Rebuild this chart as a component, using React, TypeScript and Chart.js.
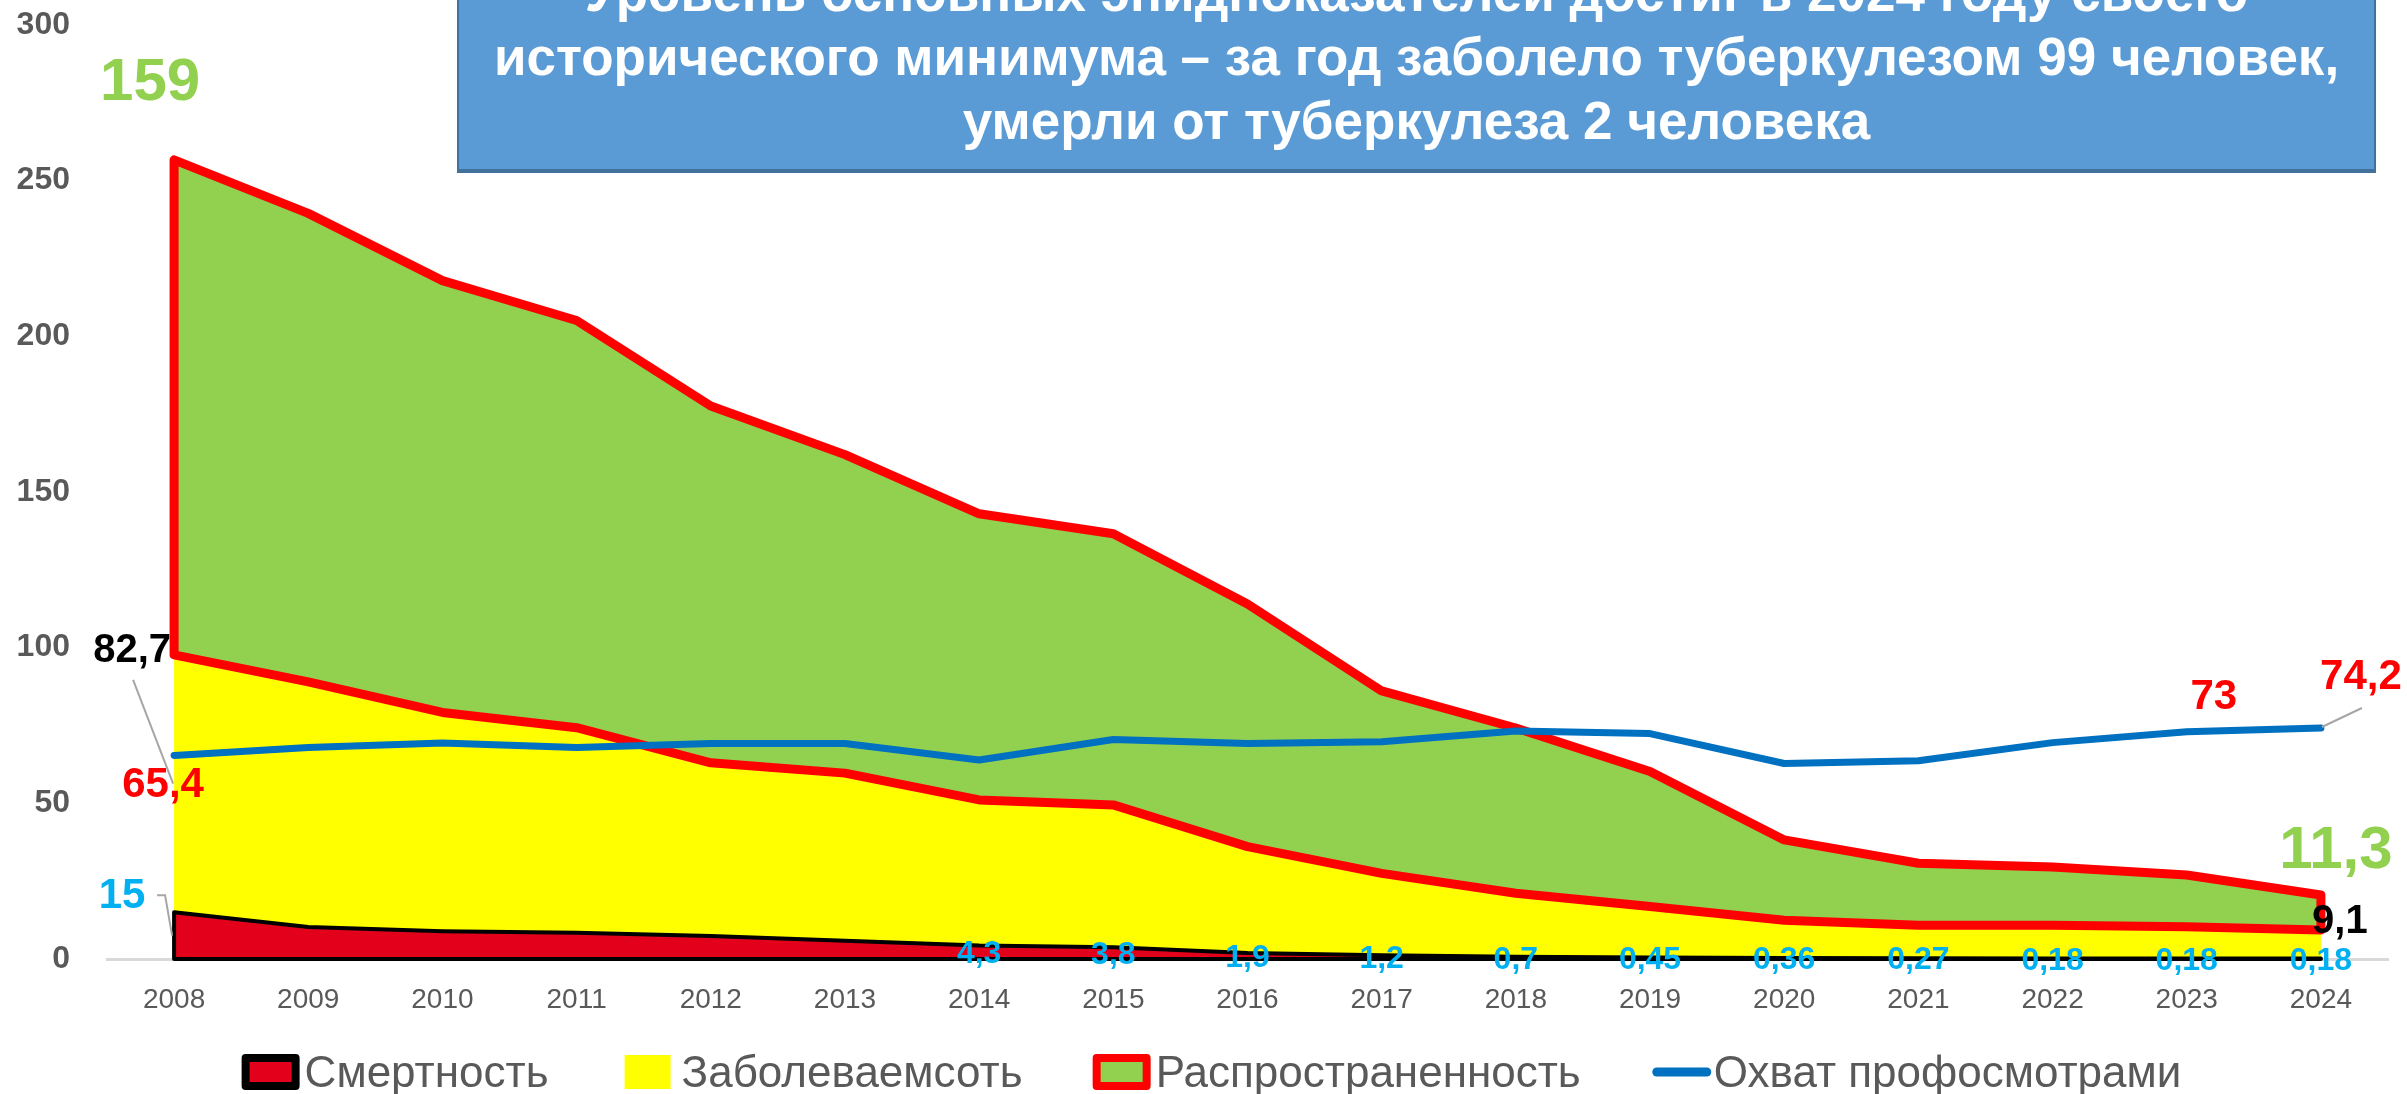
import React, { useEffect, useRef } from 'react';
import { Chart, registerables } from 'chart.js';

Chart.register(...registerables);

const years = ['2008', '2009', '2010', '2011', '2012', '2013', '2014', '2015', '2016', '2017', '2018', '2019', '2020', '2021', '2022', '2023', '2024'];
const mortality = [15, 10.3, 8.9, 8.4, 7.4, 5.9, 4.3, 3.8, 1.9, 1.2, 0.7, 0.45, 0.36, 0.27, 0.18, 0.18, 0.18];
const incidence = [82.7, 78.7, 70.3, 65.9, 55.6, 53.8, 46.8, 45.7, 34.2, 26.3, 20.4, 16.4, 12.1, 10.6, 10.7, 10.2, 9.1];
const prevalence = [159, 150.5, 138.7, 130.8, 114.6, 102.3, 91.9, 87.1, 77.9, 58.6, 53.1, 43.4, 25.8, 19.9, 18.7, 16.6, 11.3];
const coverage = [65.4, 67.9, 69.4, 67.9, 69.2, 69.2, 63.9, 70.5, 69.2, 69.8, 73.2, 72.4, 62.8, 63.7, 69.5, 73, 74.2];
const yTickValues = [0, 50, 100, 150, 200, 250, 300];
const seriesNames = ['Смертность', 'Заболеваемсоть', 'Распространенность', 'Охват профосмотрами'];
const titleLines = [
  'Уровень основных эпидпоказателей достиг в 2024 году своего',
  'исторического минимума – за год заболело туберкулезом 99 человек,',
  'умерли от туберкулеза 2 человека',
];

const FONT = "'Liberation Sans', Arial, sans-serif";
const fmt = (v: number) => String(v).replace('.', ',');

const outlinePlugin = {
  id: 'bandOutlines',
  afterDatasetDraw(chart: any, args: any) {
    const idx = args.index;
    const ds: any = chart.data.datasets[idx];
    if (!ds.outlineColor) return;
    const meta = chart.getDatasetMeta(idx);
    const ctx = chart.ctx;
    const top = meta.data.map((p: any) => ({ x: p.x, y: p.y }));
    let bottom: { x: number; y: number }[];
    if (idx === 0) {
      const y0 = chart.scales.y.getPixelForValue(0);
      bottom = top.map((p: any) => ({ x: p.x, y: y0 }));
    } else {
      bottom = chart.getDatasetMeta(idx - 1).data.map((p: any) => ({ x: p.x, y: p.y }));
    }
    ctx.save();
    ctx.beginPath();
    top.forEach((p: any, i: number) => (i === 0 ? ctx.moveTo(p.x, p.y) : ctx.lineTo(p.x, p.y)));
    for (let i = bottom.length - 1; i >= 0; i--) ctx.lineTo(bottom[i].x, bottom[i].y);
    ctx.closePath();
    ctx.strokeStyle = ds.outlineColor;
    ctx.lineWidth = ds.outlineWidth;
    ctx.lineJoin = 'round';
    ctx.stroke();
    ctx.restore();
  },
};

const labelPlugin = {
  id: 'valueLabels',
  afterDatasetsDraw(chart: any) {
    const ctx = chart.ctx;
    const y0 = chart.scales.y.getPixelForValue(0);
    const m0 = chart.getDatasetMeta(0).data;
    const m1 = chart.getDatasetMeta(1).data;
    const m2 = chart.getDatasetMeta(2).data;
    const m3 = chart.getDatasetMeta(3).data;
    const last = years.length - 1;
    const text = (t: string, x: number, y: number, size: number, color: string) => {
      ctx.save();
      ctx.font = `bold ${size}px ${FONT}`;
      ctx.fillStyle = color;
      ctx.textAlign = 'center';
      ctx.textBaseline = 'middle';
      ctx.fillText(t, x, y);
      ctx.restore();
    };
    const line = (pts: number[][]) => {
      ctx.save();
      ctx.strokeStyle = '#A6A6A6';
      ctx.lineWidth = 2;
      ctx.beginPath();
      pts.forEach((p, i) => (i === 0 ? ctx.moveTo(p[0], p[1]) : ctx.lineTo(p[0], p[1])));
      ctx.stroke();
      ctx.restore();
    };
    for (let i = 6; i <= last; i++) {
      const p = m0[i];
      text(fmt(mortality[i]), p.x, (p.y + y0) / 2 + 2, 32, '#00B0F0');
    }
    const pm = m0[0];
    text(fmt(mortality[0]), pm.x - 52, pm.y - 16, 42, '#00B0F0');
    line([[pm.x - 17, pm.y - 17], [pm.x - 9, pm.y - 17], [pm.x - 2, (pm.y + y0) / 2]]);
    const pi = m1[0];
    text(fmt(incidence[0]), pi.x - 42, pi.y - 4, 40, '#000000');
    line([[pi.x - 41, pi.y + 25], [pi.x - 1, (pi.y + pm.y) / 2]]);
    const pc = m3[0];
    text(fmt(coverage[0]), pc.x - 11, pc.y + 30, 42, '#FF0000');
    const pp = m2[0];
    text(fmt(prevalence[0]), pp.x - 24, pp.y - 76, 60, '#92D050');
    const pc23 = m3[last - 1];
    text(fmt(coverage[last - 1]), pc23.x + 27, pc23.y - 34, 42, '#FF0000');
    const pc24 = m3[last];
    text(fmt(coverage[last]), pc24.x + 40, pc24.y - 51, 42, '#FF0000');
    line([[pc24.x + 1, pc24.y - 1], [pc24.x + 41, pc24.y - 20]]);
    const pp24 = m2[last];
    text(fmt(prevalence[last]), pp24.x + 15, pp24.y - 43, 60, '#92D050');
    const pi24 = m1[last];
    text(fmt(incidence[last]), pi24.x + 19, pi24.y - 8, 40, '#000000');
  },
};

// legend drawn below the axis, items centred on the canvas
const legendPlugin = {
  id: 'bottomLegend',
  afterDraw(chart: any) {
    const ctx = chart.ctx;
    const items = [
      { text: seriesNames[0], kind: 'box', fill: '#E2001A', stroke: '#000000' },
      { text: seriesNames[1], kind: 'plain', fill: '#FFFF00', stroke: '' },
      { text: seriesNames[2], kind: 'box', fill: '#92D050', stroke: '#FF0000' },
      { text: seriesNames[3], kind: 'line', fill: '#0070C0', stroke: '#0070C0' },
    ];
    const symW = 58;
    const gap = 5;
    const spacing = 70;
    const cy = 1072;
    ctx.save();
    ctx.font = `44px ${FONT}`;
    const widths = items.map((it) => ctx.measureText(it.text).width);
    const total = widths.reduce((a, w) => a + symW + gap + w, 0) + spacing * (items.length - 1);
    let x = (chart.width - total) / 2 + 8;
    items.forEach((it, i) => {
      if (it.kind === 'box') {
        ctx.fillStyle = it.stroke;
        ctx.beginPath();
        ctx.roundRect(x, cy - 18, symW, 36, 4);
        ctx.fill();
        ctx.fillStyle = it.fill;
        ctx.fillRect(x + 8, cy - 10, symW - 16, 20);
      } else if (it.kind === 'plain') {
        ctx.fillStyle = it.fill;
        ctx.fillRect(x + 6, cy - 17, symW - 12, 34);
      } else {
        ctx.strokeStyle = it.stroke;
        ctx.lineWidth = 9;
        ctx.lineCap = 'round';
        ctx.beginPath();
        ctx.moveTo(x + 6, cy);
        ctx.lineTo(x + symW - 2, cy);
        ctx.stroke();
      }
      ctx.fillStyle = '#595959';
      ctx.textAlign = 'left';
      ctx.textBaseline = 'middle';
      ctx.fillText(it.text, x + symW + gap, cy + 3);
      x += symW + gap + widths[i] + spacing;
    });
    ctx.restore();
  },
};

export default function App() {
  const canvasRef = useRef<HTMLCanvasElement | null>(null);

  useEffect(() => {
    if (!canvasRef.current) return;
    Chart.defaults.font.family = FONT;
    const chart = new Chart(canvasRef.current, {
      type: 'line',
      data: {
        labels: years,
        datasets: [
          {
            label: seriesNames[0],
            data: mortality,
            backgroundColor: '#E2001A',
            borderWidth: 0,
            pointRadius: 0,
            fill: 'origin',
            stack: 'areas',
            order: 1,
            outlineColor: '#000000',
            outlineWidth: 4,
          } as any,
          {
            label: seriesNames[1],
            data: incidence,
            backgroundColor: '#FFFF00',
            borderWidth: 0,
            pointRadius: 0,
            fill: '-1',
            stack: 'areas',
            order: 1,
          } as any,
          {
            label: seriesNames[2],
            data: prevalence,
            backgroundColor: '#92D050',
            borderWidth: 0,
            pointRadius: 0,
            fill: '-1',
            stack: 'areas',
            order: 1,
            outlineColor: '#FF0000',
            outlineWidth: 9,
          } as any,
          {
            label: seriesNames[3],
            data: coverage,
            borderColor: '#0070C0',
            backgroundColor: '#0070C0',
            borderWidth: 7,
            pointRadius: 0,
            fill: false,
            stack: 'line',
            order: 0,
            borderCapStyle: 'round',
            borderJoinStyle: 'round',
          } as any,
        ],
      },
      options: {
        responsive: false,
        animation: false,
        devicePixelRatio: 1,
        layout: { padding: { top: 25, right: 19, bottom: 75, left: 0 } },
        plugins: {
          title: { display: false },
          tooltip: { enabled: false },
          legend: { display: false },
          filler: { drawTime: 'beforeDatasetsDraw' },
        },
        scales: {
          x: {
            offset: true,
            grid: { display: false, drawTicks: false },
            border: { display: true, color: '#D9D9D9', width: 3 },
            ticks: { font: { size: 28, family: FONT }, color: '#595959', padding: 24, maxRotation: 0, autoSkip: false },
            afterFit: (scale: any) => { scale.height = 60; },
          },
          y: {
            stacked: true,
            min: 0,
            max: 300,
            grid: { display: false, drawTicks: false },
            border: { display: false },
            afterBuildTicks: (scale: any) => { scale.ticks = yTickValues.map((v) => ({ value: v })); },
            ticks: { font: { size: 32, weight: 'bold', family: FONT }, color: '#595959', padding: 37 },
            afterFit: (scale: any) => {
              scale.width = 107;
              scale.paddingTop = 0;
              scale.paddingBottom = 0;
            },
          },
        },
      },
      plugins: [outlinePlugin, labelPlugin, legendPlugin],
    } as any);
    return () => chart.destroy();
  }, []);

  return (
    <div style={{ position: 'fixed', left: 0, top: 0, width: 2407, height: 1094, overflow: 'hidden', background: '#FFFFFF' }}>
      <canvas ref={canvasRef} width={2407} height={1094} style={{ display: 'block', width: 2407, height: 1094 }} />
      <div
        style={{
          position: 'absolute',
          left: 457,
          top: -45,
          width: 1919,
          height: 218,
          boxSizing: 'border-box',
          background: '#5B9BD5',
          border: '2px solid #41719C',
          borderBottom: '4px solid #41719C',
        }}
      />
      <div
        style={{
          position: 'absolute',
          left: 457,
          top: -39,
          width: 1919,
          textAlign: 'center',
          color: '#FFFFFF',
          fontFamily: FONT,
          fontWeight: 'bold',
          fontSize: 53,
          lineHeight: '64px',
          whiteSpace: 'nowrap',
        }}
      >
        {titleLines.map((t, i) => (
          <div key={i}>{t}</div>
        ))}
      </div>
    </div>
  );
}
